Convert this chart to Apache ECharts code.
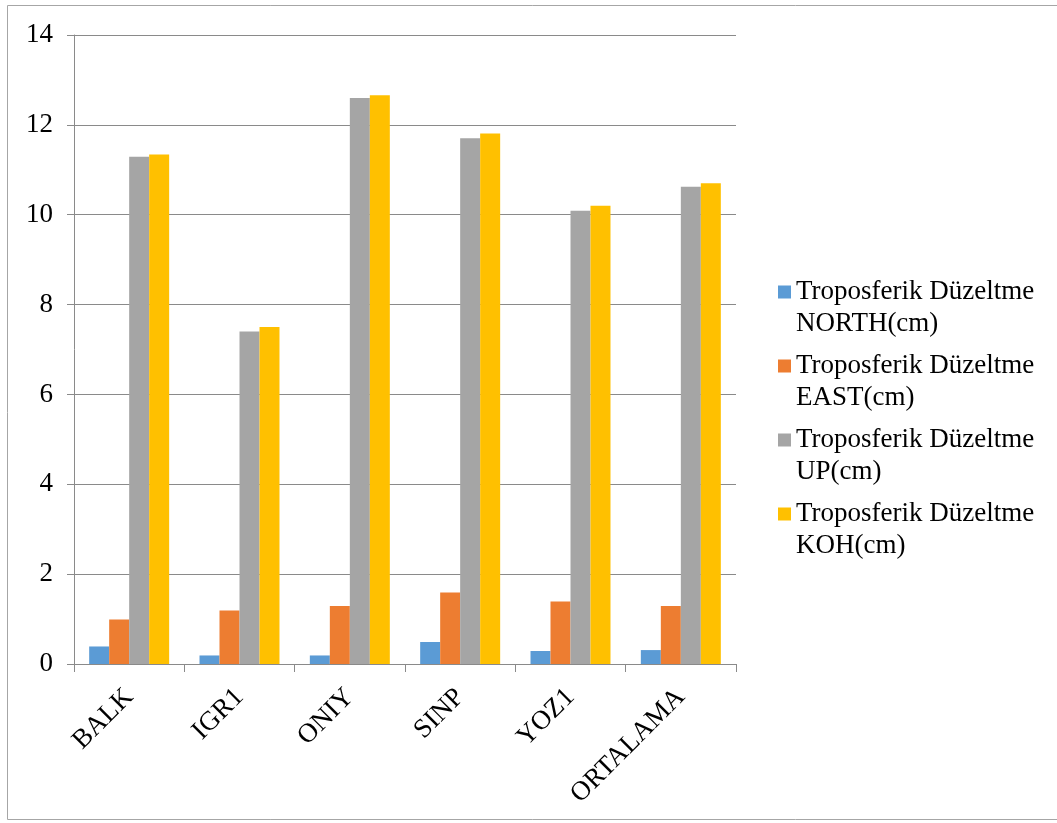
<!DOCTYPE html>
<html>
<head>
<meta charset="utf-8">
<script src="https://cdn.jsdelivr.net/npm/echarts@6/dist/echarts.min.js"></script>
<style>
  html, body { margin: 0; padding: 0; background: #ffffff; }
  #chart { width: 1057px; height: 823px; }
</style>
</head>
<body>
<div id="chart"></div>
<script>
// Stations and the tropospheric correction per component (cm)
const categories = ['BALK', 'IGR1', 'ONIY', 'SINP', 'YOZ1', 'ORTALAMA'];
const northValues = [0.39, 0.19, 0.19, 0.49, 0.29, 0.31];
const eastValues  = [0.99, 1.19, 1.29, 1.59, 1.39, 1.29];
const upValues    = [11.29, 7.40, 12.60, 11.70, 10.09, 10.62];
const kohValues   = [11.34, 7.50, 12.66, 11.81, 10.20, 10.70];
const seriesNames = [
  'Troposferik Düzeltme NORTH(cm)',
  'Troposferik Düzeltme EAST(cm)',
  'Troposferik Düzeltme UP(cm)',
  'Troposferik Düzeltme KOH(cm)'
];
const seriesColors = ['#5B9BD5', '#ED7D31', '#A5A5A5', '#FFC000'];

const FONT = '"Liberation Serif", "Times New Roman", serif';
const AXIS_GRAY = '#8a8a8a';

const chart = echarts.init(document.getElementById('chart'), null, { renderer: 'canvas' });

const dataSets = [northValues, eastValues, upValues, kohValues];

chart.setOption({
  animation: false,
  backgroundColor: '#ffffff',
  color: seriesColors,
  graphic: [{
    type: 'rect',
    shape: { x: 7.5, y: 5.5, width: 1060, height: 814 },
    style: { fill: 'none', stroke: '#a6a6a6', lineWidth: 1 },
    silent: true,
    z: -1
  }],
  grid: { left: 74, top: 35, width: 662, bottom: 159, containLabel: false },
  legend: {
    orient: 'vertical',
    left: 778,
    top: 244,
    padding: 0,
    itemWidth: 13,
    itemHeight: 13,
    itemGap: -22,
    itemTextGap: 6,
    icon: 'rect',
    // first line of each entry sits level with its swatch
    formatter: name => {
      const i = name.lastIndexOf(' ');
      return '\n' + name.slice(0, i) + '\n' + name.slice(i + 1);
    },
    textStyle: {
      fontFamily: FONT,
      fontSize: 27,
      color: '#000000',
      lineHeight: 32
    },
    data: seriesNames
  },
  xAxis: {
    type: 'category',
    data: categories,
    axisLine: { lineStyle: { color: AXIS_GRAY, width: 1 } },
    axisTick: { show: true, length: 8, alignWithLabel: false, lineStyle: { color: AXIS_GRAY } },
    axisLabel: {
      rotate: 45,
      margin: 29,
      fontFamily: FONT,
      fontSize: 27,
      color: '#000000',
      interval: 0
    },
    splitLine: { show: false }
  },
  yAxis: {
    type: 'value',
    min: 0,
    max: 14,
    interval: 2,
    axisLine: { show: true, lineStyle: { color: AXIS_GRAY, width: 1 } },
    axisTick: { show: true, length: 7, lineStyle: { color: AXIS_GRAY } },
    axisLabel: {
      margin: 21,
      fontFamily: FONT,
      fontSize: 27,
      color: '#000000'
    },
    splitLine: { show: true, lineStyle: { color: AXIS_GRAY, width: 1 } }
  },
  series: seriesNames.map((name, i) => ({
    name,
    type: 'bar',
    data: dataSets[i],
    barGap: '0%',
    barCategoryGap: '27.5%',
    itemStyle: { color: seriesColors[i] }
  }))
});
</script>
</body>
</html>
